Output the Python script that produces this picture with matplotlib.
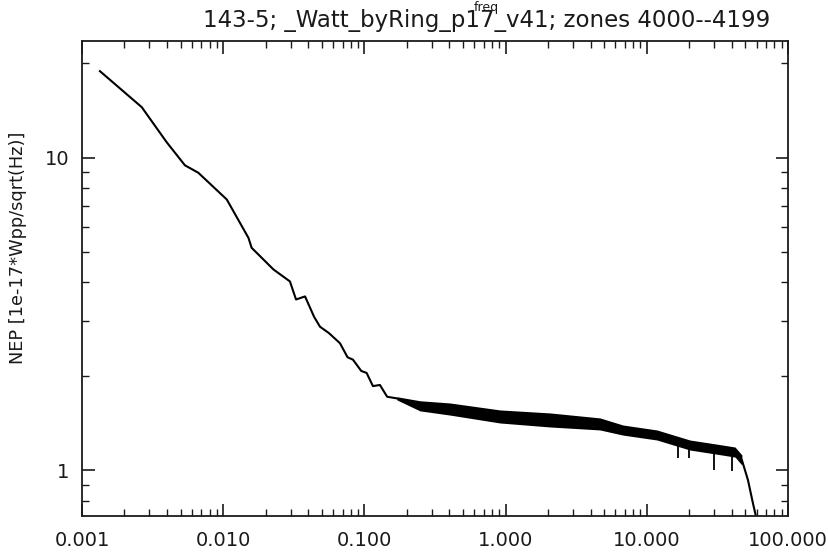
import matplotlib
matplotlib.use("Agg")
import matplotlib.pyplot as plt
from matplotlib.ticker import FixedLocator, FixedFormatter, FuncFormatter

# NEP spectrum (freq in Hz, NEP in 1e-17 W/sqrt(Hz))
freq = [0.00134, 0.00265, 0.00398, 0.00536, 0.00666, 0.0106, 0.0151, 0.0159,
        0.0227, 0.0297, 0.0328, 0.0380, 0.0440, 0.0485, 0.0560, 0.0672, 0.0760,
        0.0830, 0.0950, 0.1037, 0.1150, 0.1288, 0.1450, 0.1693, 0.2477, 0.404,
        0.912, 2.06, 4.66, 6.78, 11.8, 20.2, 34.7, 42.2, 47.2, 52.1, 56.5, 59.3]
nep = [18.9, 14.5, 11.2, 9.45, 8.95, 7.35, 5.54, 5.15,
       4.39, 4.02, 3.52, 3.60, 3.10, 2.88, 2.75, 2.55, 2.30,
       2.26, 2.08, 2.05, 1.86, 1.876, 1.72, 1.70, 1.60, 1.57,
       1.486, 1.449, 1.406, 1.345, 1.297, 1.205, 1.162, 1.145, 1.079, 0.931, 0.785, 0.714]

# noise envelope of the high-frequency part
band_freq = [0.17, 0.2477, 0.404, 0.912, 2.06, 4.66, 6.78, 11.8, 20.2, 34.7, 42.2, 47.2]
band_hi = [1.72, 1.67, 1.643, 1.561, 1.527, 1.472, 1.397, 1.347, 1.251, 1.205, 1.188, 1.12]
band_lo = [1.68, 1.55, 1.503, 1.418, 1.377, 1.347, 1.297, 1.251, 1.162, 1.119, 1.103, 1.04]

# narrow downward lines
spike_freq = [16.6, 19.9, 29.9, 40.1]
spike_top = [1.20, 1.17, 1.14, 1.12]
spike_bot = [1.095, 1.095, 1.00, 0.995]

xticks = [0.001, 0.01, 0.1, 1.0, 10.0, 100.0]
yticks = [1, 10]
ytick_labels = ["1", "10"]

plt.rcParams["font.family"] = ["DejaVu Sans"]
ink = "#1a1a1a"

fig = plt.figure(figsize=(8.29, 5.54), dpi=100)
ax = fig.add_axes([0.0989, 0.0686, 0.8516, 0.8574])

ax.fill_between(band_freq, band_lo, band_hi, color="black", lw=0)
ax.plot(freq, nep, color="black", lw=1.5)
ax.vlines(spike_freq, spike_bot, spike_top, color="black", lw=1.3)

ax.set_xscale("log")
ax.set_yscale("log")
ax.set_xlim(0.001, 100)
ax.set_ylim(0.715, 23.6)

ax.xaxis.set_major_locator(FixedLocator(xticks))
ax.xaxis.set_major_formatter(FuncFormatter(lambda v, p: "%.3f" % v))
ax.yaxis.set_major_locator(FixedLocator(yticks))
ax.yaxis.set_major_formatter(FixedFormatter(ytick_labels))
ax.yaxis.set_minor_formatter(FuncFormatter(lambda v, p: ""))
ax.xaxis.set_minor_formatter(FuncFormatter(lambda v, p: ""))

ax.tick_params(which="both", direction="in", top=True, right=True, color=ink,
               labelcolor=ink, labelsize=14)
ax.tick_params(which="major", length=9, width=1.2)
ax.tick_params(which="minor", length=5, width=1.0)
ax.tick_params(axis="x", which="major", pad=11)
ax.tick_params(axis="y", which="major", pad=9)
for s in ax.spines.values():
    s.set_color(ink)
    s.set_linewidth(1.3)

# title, with the x title "freq" sitting on top of it as in the original
fig.text(487 / 829, 1 - 20 / 554, "143-5; _Watt_byRing_p17_v41; zones 4000--4199",
         ha="center", va="center", fontsize=16.5, color=ink)
fig.text(486 / 829, 1 - 8 / 554, "freq", ha="center", va="center",
         fontsize=9, color=ink)
fig.text(18 / 829, 1 - 248 / 554, "NEP [1e-17*Wpp/sqrt(Hz)]", rotation=90,
         ha="center", va="center", fontsize=12.8, color=ink)

fig.savefig("out.png", dpi=100)
